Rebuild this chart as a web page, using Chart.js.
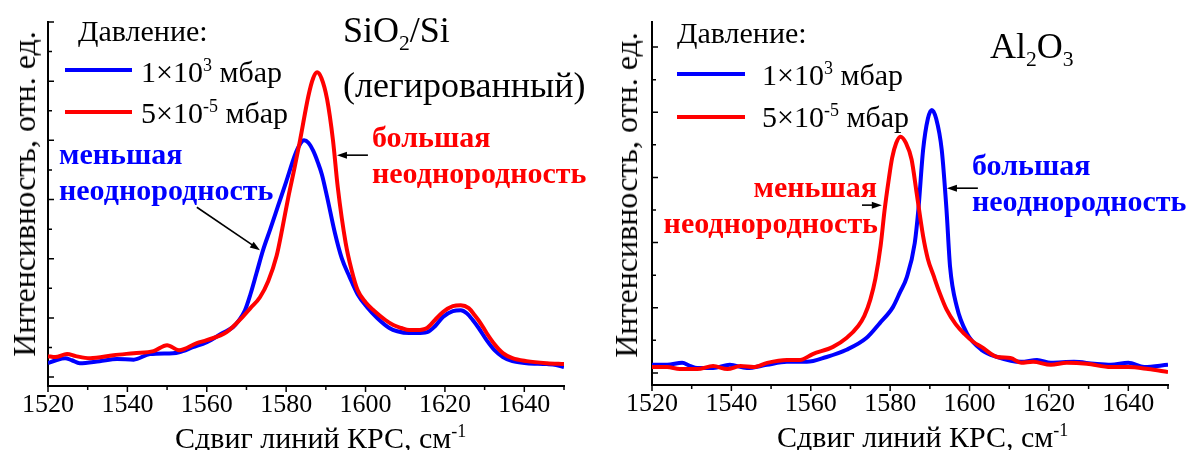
<!DOCTYPE html>
<html lang="ru">
<head>
<meta charset="utf-8">
<title>Сдвиг линий КРС: SiO2/Si и Al2O3</title>
<script src="https://cdn.jsdelivr.net/npm/chart.js@4.4.1/dist/chart.umd.min.js"></script>
<style>
  html, body { margin: 0; padding: 0; background: #fff; }
  body {
    position: relative; width: 1194px; height: 450px; overflow: hidden;
    font-family: "Liberation Serif", "Times New Roman", serif; color: #000;
  }
  canvas { position: absolute; top: 0; }
  #sio-chart { left: 0; }
  #al-chart { left: 600px; }
  .label { position: absolute; white-space: nowrap; line-height: 1; font-size: 30px; }
  .label.title { font-size: 36px; }
  .bold { font-weight: bold; }
  .blue { color: #0000ff; }
  .red { color: #ff0000; }
  .y-title {
    position: absolute; white-space: nowrap; line-height: 1; font-size: 32px;
    transform: translate(-50%, -50%) rotate(-90deg);
  }
  sup { font-size: 0.6em; vertical-align: 0.62em; line-height: 0; }
  sub { font-size: 0.6em; vertical-align: -0.35em; line-height: 0; }
  .swatch { position: absolute; height: 4px; }
</style>
</head>
<body>
<canvas id="sio-chart" width="600" height="450"></canvas>
<canvas id="al-chart" width="594" height="450"></canvas>
<div id="labels"></div>
<script>
const BLUE = '#0000ff';
const RED = '#ff0000';
const SERIF = '"Liberation Serif", "Times New Roman", serif';

const shiftMin = 1520;
const shiftMax = 1650;
const xTickLabels = [1520, 1540, 1560, 1580, 1600, 1620, 1640];
const pressureLabels = ['1×10<sup>3</sup> мбар', '5×10<sup>-5</sup> мбар'];

// SiO2/Si (легированный), 1×10^3 мбар
const sioAtmX = [1520, 1522, 1524.3, 1526, 1528, 1533, 1537.4, 1541.6, 1545.7, 1551.5,
  1553, 1556.5, 1560, 1564, 1566.6, 1568, 1569.6, 1571, 1572.5, 1574.2,
  1576, 1578, 1580, 1582.2, 1583.4, 1584.5, 1585.6, 1586.8, 1588, 1589,
  1590.3, 1592.3, 1594, 1596, 1598, 1600.4, 1603, 1606, 1608, 1611,
  1613, 1615.5, 1617.5, 1619.5, 1622, 1624, 1625.5, 1627, 1628.5, 1630.5,
  1632.5, 1634.6, 1637, 1640.6, 1645.7, 1648, 1650];
const sioAtmY = [0.47, 0.57, 0.64, 0.57, 0.47, 0.54, 0.61, 0.59, 0.78, 0.81,
  0.84, 1.01, 1.18, 1.49, 1.69, 1.9, 2.25, 2.8, 3.5, 4.3,
  5.0, 5.8, 6.6, 7.5, 7.85, 8.0, 7.92, 7.65, 7.25, 6.85,
  6.1, 4.86, 4.02, 3.38, 2.8, 2.36, 1.99, 1.66, 1.55, 1.49,
  1.49, 1.52, 1.72, 2.03, 2.23, 2.26, 2.16, 1.93, 1.66, 1.25,
  0.91, 0.68, 0.54, 0.47, 0.44, 0.41, 0.34];

// SiO2/Si (легированный), 5×10^-5 мбар
const sioVacX = [1520, 1521.8, 1524.8, 1527, 1530.6, 1536.5, 1541.6, 1546.6, 1550, 1553,
  1557.5, 1560, 1565, 1569, 1571, 1573.4, 1575.5, 1577.6, 1579, 1580.5,
  1582, 1583.5, 1585.6, 1586.8, 1587.8, 1588.9, 1590.3, 1591.8, 1593, 1595,
  1596.5, 1598, 1600, 1602, 1605, 1607, 1609, 1611, 1613, 1615.5,
  1617.5, 1619.5, 1622, 1624, 1626, 1627.5, 1629, 1630.5, 1632.5, 1634.6,
  1637, 1640.6, 1645.7, 1650];
const sioVacY = [0.71, 0.68, 0.78, 0.71, 0.64, 0.74, 0.81, 0.88, 1.08, 0.91,
  1.15, 1.25, 1.52, 2.03, 2.33, 2.7, 3.25, 4.1, 5.0, 6.05,
  7.0, 8.0, 9.5, 10.1, 10.3, 10.1, 9.4, 8.0, 6.42, 4.53,
  3.61, 2.94, 2.53, 2.26, 1.93, 1.76, 1.66, 1.59, 1.59, 1.66,
  1.93, 2.2, 2.4, 2.43, 2.33, 2.09, 1.82, 1.49, 1.11, 0.81,
  0.64, 0.54, 0.47, 0.44];

// Al2O3, 1×10^3 мбар
const alAtmX = [1520, 1523.8, 1527.6, 1529.5, 1531.4, 1535.4, 1539.6, 1543.9, 1548.9, 1554,
  1559, 1564, 1569, 1574, 1577.4, 1580.7, 1582.5, 1584.2, 1586.2, 1587.1,
  1588.3, 1589.5, 1590.5, 1591.6, 1593.0, 1594.2, 1595.1, 1596.8, 1599.3, 1603,
  1607, 1613, 1617, 1620.5, 1626.3, 1631.4, 1635.6, 1640, 1644, 1650];
const alAtmY = [0.25, 0.25, 0.31, 0.22, 0.15, 0.15, 0.25, 0.15, 0.25, 0.34,
  0.34, 0.49, 0.71, 1.07, 1.53, 2.02, 2.48, 2.94, 3.99, 5.0,
  6.84, 7.8, 8.07, 7.8, 6.84, 5.0, 3.25, 2.03, 1.22, 0.71,
  0.49, 0.34, 0.4, 0.31, 0.34, 0.28, 0.25, 0.31, 0.18, 0.25];

// Al2O3, 5×10^-5 мбар
const alVacX = [1520, 1523.8, 1527, 1531.4, 1535.4, 1539, 1542.3, 1545.6, 1549, 1554,
  1557.3, 1560.5, 1565.6, 1569, 1572, 1573.5, 1575, 1576.3, 1577.6, 1578.6,
  1579.6, 1580.5, 1581.5, 1582.6, 1584, 1585.4, 1586.7, 1588.3, 1589.5, 1590.9,
  1592.5, 1594.2, 1596.5, 1598.7, 1601, 1603, 1607, 1610.3, 1613, 1616,
  1620.5, 1624.5, 1629.6, 1635.6, 1640, 1645, 1650];
const alVacY = [0.18, 0.18, 0.12, 0.12, 0.21, 0.12, 0.21, 0.18, 0.31, 0.4,
  0.4, 0.58, 0.8, 1.07, 1.45, 1.75, 2.25, 2.9, 3.9, 5.0,
  5.9, 6.6, 7.05, 7.25, 7.05, 6.55, 5.5, 4.2, 3.5, 3.0,
  2.45, 1.95, 1.5, 1.2, 0.95, 0.8, 0.49, 0.46, 0.31, 0.34,
  0.25, 0.31, 0.28, 0.18, 0.18, 0.12, 0.03];

// minor/major ticks on both axes, drawn by hand (x outward, y inward)
const axisTicks = {
  id: 'axisTicks',
  afterDraw(chart, args, opts) {
    const { ctx, chartArea, scales: { x, y } } = chart;
    ctx.save();
    ctx.strokeStyle = '#000';
    ctx.lineWidth = 1.5;
    ctx.beginPath();
    for (let v = shiftMin; v <= shiftMax; v += 10) {
      const px = x.getPixelForValue(v);
      const len = v % 20 === 0 ? 6 : 4;
      ctx.moveTo(px, chartArea.bottom);
      ctx.lineTo(px, chartArea.bottom + len);
    }
    for (let v = 0; v <= opts.yMax; v += 1) {
      const py = y.getPixelForValue(v);
      const len = v % 2 === 0 ? 6 : 4;
      ctx.moveTo(chartArea.left, py);
      ctx.lineTo(chartArea.left + len, py);
    }
    ctx.stroke();
    ctx.restore();
  }
};

// black pointer arrows, given in data coordinates
const arrows = {
  id: 'arrows',
  afterDatasetsDraw(chart, args, opts) {
    const { ctx, scales: { x, y } } = chart;
    ctx.save();
    ctx.strokeStyle = '#000';
    ctx.fillStyle = '#000';
    ctx.lineWidth = 1.6;
    (opts.items || []).forEach((a) => {
      const x0 = x.getPixelForValue(a.from[0]);
      const y0 = y.getPixelForValue(a.from[1]);
      const x1 = x.getPixelForValue(a.to[0]);
      const y1 = y.getPixelForValue(a.to[1]);
      const ang = Math.atan2(y1 - y0, x1 - x0);
      const cos = Math.cos(ang);
      const sin = Math.sin(ang);
      const head = 10;
      const half = 3.5;
      ctx.beginPath();
      ctx.moveTo(x0, y0);
      ctx.lineTo(x1 - head * 0.8 * cos, y1 - head * 0.8 * sin);
      ctx.stroke();
      ctx.beginPath();
      ctx.moveTo(x1, y1);
      ctx.lineTo(x1 - head * cos + half * sin, y1 - head * sin - half * cos);
      ctx.lineTo(x1 - head * cos - half * sin, y1 - head * sin + half * cos);
      ctx.closePath();
      ctx.fill();
    });
    ctx.restore();
  }
};

function makeChart(canvasId, atm, vac, yRange, padding, arrowItems) {
  const toPoints = (xs, ys) => xs.map((x, i) => ({ x, y: ys[i] }));
  return new Chart(document.getElementById(canvasId), {
    type: 'line',
    data: {
      datasets: [
        {
          label: '5×10^-5 мбар',
          data: toPoints(vac.x, vac.y),
          borderColor: RED,
          borderWidth: 4,
          pointRadius: 0,
          cubicInterpolationMode: 'monotone',
          order: 0
        },
        {
          label: '1×10^3 мбар',
          data: toPoints(atm.x, atm.y),
          borderColor: BLUE,
          borderWidth: 4,
          pointRadius: 0,
          cubicInterpolationMode: 'monotone',
          order: 1
        }
      ]
    },
    options: {
      responsive: false,
      animation: false,
      events: [],
      layout: { padding },
      plugins: {
        legend: { display: false },
        tooltip: { enabled: false },
        axisTicks: { yMax: yRange.tickMax },
        arrows: { items: arrowItems }
      },
      scales: {
        x: {
          type: 'linear',
          min: shiftMin,
          max: shiftMax,
          grid: { display: false, drawTicks: false },
          border: { display: true, color: '#000', width: 2 },
          ticks: {
            stepSize: 10,
            autoSkip: false,
            maxRotation: 0,
            minRotation: 0,
            padding: 4,
            color: '#000',
            font: { family: SERIF, size: 26 },
            callback: (v) => (xTickLabels.includes(v) ? String(v) : '')
          },
          afterFit: (scale) => { scale.height = 40; }
        },
        y: {
          type: 'linear',
          min: yRange.min,
          max: yRange.max,
          grid: { display: false, drawTicks: false },
          border: { display: true, color: '#000', width: 2 },
          ticks: { display: false },
          afterFit: (scale) => { scale.width = 0; }
        }
      }
    },
    plugins: [axisTicks, arrows]
  });
}

makeChart('sio-chart',
  { x: sioAtmX, y: sioAtmY },
  { x: sioVacX, y: sioVacY },
  { min: -0.3, max: 12, tickMax: 12 },
  { left: 48, right: 36, top: 22, bottom: 24 },
  [
    { from: [1557.5, 5.74], to: [1573.4, 4.29] },
    { from: [1600.6, 7.5], to: [1592.8, 7.5] }
  ]);

makeChart('al-chart',
  { x: alAtmX, y: alAtmY },
  { x: alVacX, y: alVacY },
  { min: -0.37, max: 10.77, tickMax: 10 },
  { left: 52, right: 26, top: 22, bottom: 25 },
  [
    { from: [1602.1, 5.67], to: [1594.3, 5.67] },
    { from: [1572.9, 5.15], to: [1577.9, 5.15] }
  ]);

// text layer: legends, titles, notes and axis titles
const layer = document.getElementById('labels');

function addLabel(html, x, baseline, cls = '', align = 'left') {
  const el = document.createElement('div');
  el.className = 'label ' + cls;
  el.innerHTML = html;
  layer.appendChild(el);
  const size = parseFloat(getComputedStyle(el).fontSize);
  el.style.top = (baseline - 0.84 * size) + 'px';
  if (align === 'right') {
    el.style.right = (1194 - x) + 'px';
  } else {
    el.style.left = x + 'px';
  }
}

function addSwatch(color, x0, x1, yc) {
  const el = document.createElement('div');
  el.className = 'swatch';
  el.style.background = color;
  el.style.left = x0 + 'px';
  el.style.width = (x1 - x0) + 'px';
  el.style.top = (yc - 2) + 'px';
  layer.appendChild(el);
}

function addYTitle(cx, cy) {
  const el = document.createElement('div');
  el.className = 'y-title';
  el.textContent = 'Интенсивность, отн. ед.';
  el.style.left = cx + 'px';
  el.style.top = cy + 'px';
  layer.appendChild(el);
}

const xTitle = 'Сдвиг линий КРС, см<sup>-1</sup>';

// left panel
addLabel('Давление:', 78, 41);
addSwatch(BLUE, 65, 132, 70);
addLabel(pressureLabels[0], 141, 82);
addSwatch(RED, 65, 132, 112);
addLabel(pressureLabels[1], 141, 123);
addLabel('SiO<sub>2</sub>/Si', 343, 42, 'title');
addLabel('(легированный)', 343, 97, 'title');
addLabel('меньшая', 59, 164, 'bold blue');
addLabel('неоднородность', 59, 200, 'bold blue');
addLabel('большая', 372, 147, 'bold red');
addLabel('неоднородность', 372, 183, 'bold red');
addLabel(xTitle, 175, 448);
addYTitle(24, 194);

// right panel
addLabel('Давление:', 677, 43);
addSwatch(BLUE, 677, 745, 74);
addLabel(pressureLabels[0], 762, 85);
addSwatch(RED, 677, 745, 117);
addLabel(pressureLabels[1], 762, 127);
addLabel('Al<sub>2</sub>O<sub>3</sub>', 990, 58, 'title');
addLabel('меньшая', 877, 197, 'bold red', 'right');
addLabel('неоднородность', 878, 233, 'bold red', 'right');
addLabel('большая', 972, 175, 'bold blue');
addLabel('неоднородность', 972, 211, 'bold blue');
addLabel(xTitle, 777, 447);
addYTitle(626, 195);
</script>
</body>
</html>
